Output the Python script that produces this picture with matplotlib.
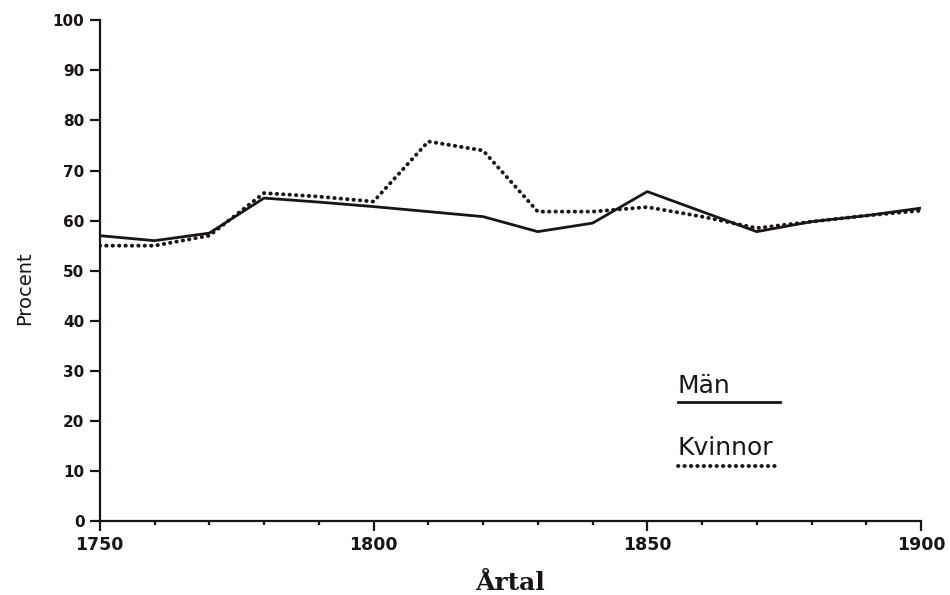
import matplotlib
matplotlib.use('Agg')
import matplotlib.pyplot as plt
from matplotlib.ticker import MultipleLocator

years = [1750, 1760, 1770, 1780, 1790, 1800, 1810, 1820, 1830, 1840, 1850, 1860, 1870, 1880, 1890, 1900]
man = [57, 56, 57.5, 64.5, 63.7, 62.8, 61.8, 60.8, 57.8, 59.5, 65.8, 61.8, 57.8, 59.8, 61, 62.5]
kvinnor = [55, 55, 57, 65.5, 64.8, 63.8, 75.8, 74, 61.8, 61.8, 62.7, 60.8, 58.5, 59.8, 61, 62]

y_ticks = list(range(0, 101, 10))
x_ticks = [1750, 1800, 1850, 1900]

ink = '#1a1414'
dots = (0, (0.1, 1.55))

fig = plt.figure(figsize=(9.5, 5.95), dpi=100)
ax = fig.add_axes([0.105, 0.124, 0.8645, 0.842])

ax.plot(years, man, color=ink, lw=2.0, solid_joinstyle='round')
ax.plot(years, kvinnor, color=ink, lw=2.8, linestyle=dots, dash_capstyle='round')

ax.set_xlim(1750, 1900)
ax.set_ylim(0, 100)
ax.set_xticks(x_ticks)
ax.set_yticks(y_ticks)
ax.xaxis.set_minor_locator(MultipleLocator(10))

for s in ['top', 'right']:
    ax.spines[s].set_visible(False)
for s in ['left', 'bottom']:
    ax.spines[s].set_linewidth(1.6)
    ax.spines[s].set_color(ink)

ax.tick_params(axis='both', which='major', direction='out', length=7, width=1.6,
               color=ink, pad=4)
ax.tick_params(axis='x', which='major', labelsize=12.5)
ax.tick_params(axis='y', which='major', labelsize=11)
ax.tick_params(axis='x', which='minor', direction='out', length=3, width=1.6, color=ink)
for lab in ax.get_xticklabels() + ax.get_yticklabels():
    lab.set_fontweight('bold')
    lab.set_color(ink)

ax.set_xlabel('Årtal', fontsize=18, family='DejaVu Serif', fontweight='bold',
              color=ink)
ax.xaxis.set_label_coords(0.5, -0.1)
ax.set_ylabel('Procent', fontsize=14, color=ink)
ax.yaxis.set_label_coords(-0.08, 0.465)

# legend drawn by hand: label above the line sample
ax.text(0.704, 0.255, 'Män', transform=ax.transAxes, fontsize=18, color=ink)
ax.plot([0.704, 0.828], [0.2375, 0.2375], transform=ax.transAxes, color=ink, lw=2.0)
ax.text(0.704, 0.132, 'Kvinnor', transform=ax.transAxes, fontsize=18, color=ink)
ax.plot([0.704, 0.828], [0.11, 0.11], transform=ax.transAxes, color=ink, lw=2.8,
        linestyle=dots, dash_capstyle='round')

fig.savefig('out.png', dpi=100, facecolor='white')
